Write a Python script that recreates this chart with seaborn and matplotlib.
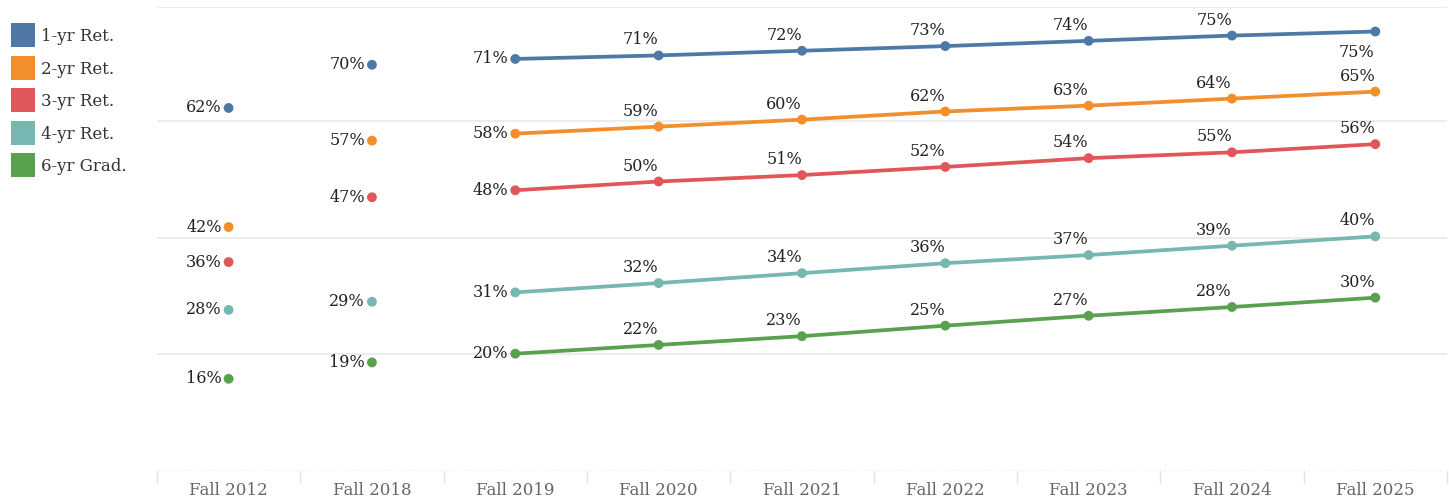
import matplotlib
matplotlib.use("Agg")
import matplotlib.pyplot as plt
from matplotlib.lines import Line2D
import seaborn as sns
import pandas as pd

# Cohort columns
terms = ["Fall 2012", "Fall 2018", "Fall 2019", "Fall 2020", "Fall 2021",
         "Fall 2022", "Fall 2023", "Fall 2024", "Fall 2025"]

# Rates (%) per measure, one value per term
ret_1yr = [62.2, 69.6, 70.6, 71.2, 72.0, 72.8, 73.7, 74.6, 75.3]
ret_2yr = [41.8, 56.6, 57.8, 59.0, 60.2, 61.6, 62.6, 63.8, 65.0]
ret_3yr = [35.8, 46.9, 48.1, 49.6, 50.7, 52.1, 53.6, 54.6, 56.0]
ret_4yr = [27.6, 29.0, 30.6, 32.2, 33.9, 35.6, 37.0, 38.6, 40.2]
grad_6yr = [15.8, 18.6, 20.1, 21.6, 23.1, 24.9, 26.6, 28.1, 29.7]

measures = ["1-yr Ret.", "2-yr Ret.", "3-yr Ret.", "4-yr Ret.", "6-yr Grad."]
palette = ["#4e79a7", "#f28e2b", "#e15759", "#76b7b2", "#59a14f"]
trend_start = "Fall 2019"

series = [ret_1yr, ret_2yr, ret_3yr, ret_4yr, grad_6yr]
rows = []
for m, vals in zip(measures, series):
    for i, (t, v) in enumerate(zip(terms, vals)):
        rows.append({"measure": m, "term": t, "pos": i, "rate": v})
df = pd.DataFrame(rows)
trend = df[df["pos"] >= terms.index(trend_start)]

sns.set_theme(style="white")
plt.rcParams["font.family"] = ["DejaVu Serif"]

fig = plt.figure(figsize=(14.49, 4.99), dpi=100)
ax = fig.add_axes([0.1083, 0.0561, 0.8903, 0.9299])

colors = dict(zip(measures, palette))
sns.lineplot(data=trend, x="pos", y="rate", hue="measure", palette=colors,
             hue_order=measures, linewidth=2.7, legend=False, ax=ax,
             zorder=3)
sns.scatterplot(data=df, x="pos", y="rate", hue="measure", palette=colors,
                hue_order=measures, s=50, linewidth=0, legend=False, ax=ax,
                zorder=4)

# Value labels
first_trend = terms.index(trend_start)
last = len(terms) - 1
lab_kw = dict(textcoords="offset points", fontsize=11.5, color="#222222")
for _, r in df.iterrows():
    txt = f"{r['rate']:.0f}%"
    if r["pos"] <= first_trend:
        ax.annotate(txt, (r["pos"], r["rate"]), xytext=(-5, 0),
                    ha="right", va="center", **lab_kw)
    elif r["pos"] == last and r["measure"] == "1-yr Ret.":
        ax.annotate(txt, (r["pos"], r["rate"]), xytext=(-1, -9),
                    ha="right", va="top", **lab_kw)
    else:
        ax.annotate(txt, (r["pos"], r["rate"]), xytext=(0, 5),
                    ha="right", va="bottom", **lab_kw)

ax.set_xlim(-0.5, len(terms) - 0.5)
ax.set_ylim(0, 79.5)
ax.set_xticks(range(len(terms)))
ax.set_xticklabels(terms, fontsize=12, color="#666666")
ax.set_yticks([])
ax.set_xlabel("")
ax.set_ylabel("")
ax.tick_params(axis="x", length=0, pad=8)

for y in [20, 40, 60, 79.5]:
    ax.axhline(y, color="#ebebeb", linewidth=1.3, zorder=0)
ax.axhline(0, color="#bdbdbd", linewidth=1, linestyle=(0, (2.5, 2)), zorder=1)

# Separators between columns below the baseline
for i in range(len(terms) + 1):
    ax.plot([i - 0.5, i - 0.5], [0, -2.0], color="#e3e3e3", linewidth=1,
            clip_on=False, zorder=1)

for s in ax.spines.values():
    s.set_visible(False)

handles = [Line2D([0], [0], marker="s", linestyle="none", markersize=17,
                  markerfacecolor=c, markeredgewidth=0, label=m)
           for m, c in zip(measures, palette)]
leg = fig.legend(handles=handles, loc="upper left",
                 bbox_to_anchor=(-0.001, 0.97), frameon=False, fontsize=12,
                 handlelength=1.3, handletextpad=0.45, labelspacing=0.93,
                 borderpad=0.3)
for t in leg.get_texts():
    t.set_color("#333333")

fig.savefig("out.png", dpi=100)
